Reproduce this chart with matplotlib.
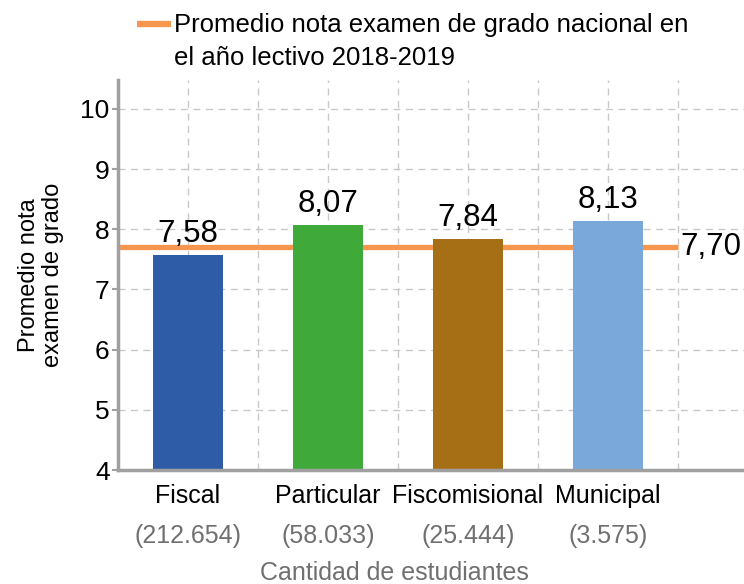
import matplotlib
matplotlib.use('Agg')
import matplotlib.pyplot as plt
from matplotlib.lines import Line2D
from matplotlib.transforms import blended_transform_factory

plt.rcParams['font.family'] = ['Liberation Sans', 'DejaVu Sans']

categories = ["Fiscal", "Particular", "Fiscomisional", "Municipal"]
student_counts = ["(212.654)", "(58.033)", "(25.444)", "(3.575)"]
mean_scores = [7.58, 8.07, 7.84, 8.13]
national_mean = 7.70
bar_colors = ["#2f5ca6", "#3faa3a", "#a66f16", "#7aa8da"]
y_ticks = [4, 5, 6, 7, 8, 9, 10]

ORANGE = "#f7964f"
GRID = "#c8c8c8"
SPINE = "#a0a0a0"


def fmt(v):
    return f"{v:.2f}".replace(".", ",")


fig = plt.figure(figsize=(7.44, 5.84), dpi=100)
ax = fig.add_axes([118 / 744, 1 - 470 / 584, 1 - 118 / 744, 390 / 584])

x = list(range(len(categories)))

# grid
for yt in y_ticks[1:]:
    ax.axhline(yt, color=GRID, lw=1, dashes=(5, 4), zorder=0)
for i in range(len(categories) * 2):
    ax.axvline(i * 0.5, color=GRID, lw=1, dashes=(5, 4), zorder=0)

# national mean line (behind bars)
ax.hlines(national_mean, -0.5, len(categories) - 0.5, color=ORANGE, lw=3.8, zorder=1)
ax.text(len(categories) - 0.5 + 0.02, national_mean, fmt(national_mean),
        ha="left", va="center", fontsize=22.5, color="black", zorder=3)

bars = ax.bar(x, mean_scores, width=0.5, color=bar_colors, zorder=2)
for xi, v in zip(x, mean_scores):
    ax.text(xi, v + 0.1, fmt(v), ha="center", va="bottom", fontsize=22.5, color="black")

ax.set_xlim(-0.5, (744 - 188) / 140)
ax.set_ylim(4, 10.48)
ax.set_yticks(y_ticks)
ax.set_yticklabels([str(t) for t in y_ticks], fontsize=19)
ax.tick_params(axis="y", length=4, width=1.5, color=SPINE, pad=2)

ax.set_xticks(x)
ax.set_xticklabels(categories, fontsize=18)
ax.tick_params(axis="x", length=0, pad=10)

trans = blended_transform_factory(ax.transData, fig.transFigure)
for xi, c in zip(x, student_counts):
    ax.text(xi, 1 - 536 / 584, c, transform=trans, ha="center", va="center",
            fontsize=18, color="#707070")
fig.text(0.53, 1 - 573 / 584, "Cantidad de estudiantes",
         ha="center", va="center", fontsize=18, color="#707070")

ax.set_ylabel("Promedio nota\nexamen de grado", fontsize=17, labelpad=12, linespacing=1.1)

for s in ["top", "right"]:
    ax.spines[s].set_visible(False)
for s in ["left", "bottom"]:
    ax.spines[s].set_color(SPINE)
    ax.spines[s].set_linewidth(2.5)

# legend drawn by hand: handle aligned with the first line
fig.add_artist(Line2D([137 / 744, 171 / 744], [1 - 24 / 584, 1 - 24 / 584],
                      color=ORANGE, lw=4.5, solid_capstyle="butt"))
fig.text(174 / 744, 1 - 13 / 584,
         "Promedio nota examen de grado nacional en\nel año lectivo 2018-2019",
         ha="left", va="top", fontsize=18.5, linespacing=1.45)

fig.savefig("out.png", dpi=100)
